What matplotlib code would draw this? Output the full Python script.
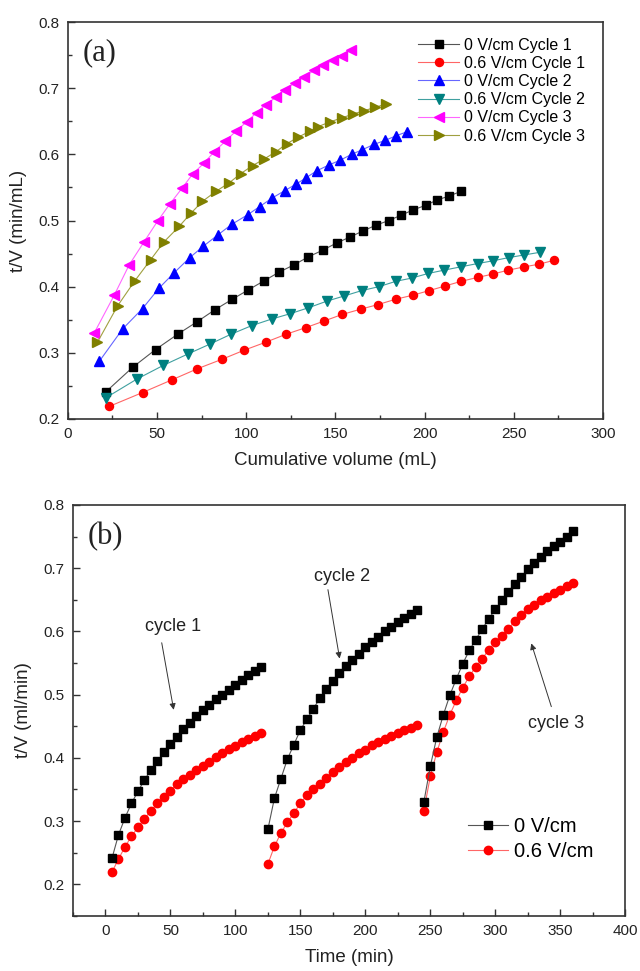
import matplotlib
matplotlib.use("Agg")
import matplotlib.pyplot as plt
from matplotlib.ticker import MultipleLocator

plt.rcParams['font.family'] = ['Liberation Sans', 'DejaVu Sans']

# ---------------- Panel (a) data: cumulative volume (mL) vs t/V ----------------
vol_0V_c1 = [21.3, 36.3, 49.2, 61.5, 72.5, 82.4, 92.2, 101.1, 110.1, 118.5, 126.8, 134.8,
             142.8, 150.7, 158.2, 165.3, 172.8, 180.0, 186.8, 193.6, 200.6, 207.1, 213.7, 220.4]
tv_0V_c1 = [0.241, 0.278, 0.305, 0.328, 0.347, 0.365, 0.381, 0.395, 0.409, 0.422, 0.433, 0.445,
            0.455, 0.466, 0.475, 0.484, 0.493, 0.500, 0.508, 0.516, 0.523, 0.531, 0.537, 0.544]

vol_06V_c1 = [23.2, 41.9, 58.2, 72.7, 86.2, 98.9, 110.9, 122.3, 133.3, 143.6, 153.8, 164.2,
              174.0, 183.8, 193.3, 202.5, 211.5, 220.4, 229.8, 238.2, 247.0, 256.0, 264.2, 272.8]
tv_06V_c1 = [0.219, 0.240, 0.259, 0.276, 0.290, 0.304, 0.316, 0.328, 0.338, 0.348, 0.358, 0.366,
             0.373, 0.381, 0.387, 0.394, 0.401, 0.408, 0.414, 0.419, 0.425, 0.430, 0.434, 0.440]

vol_0V_c2 = [17.6, 30.7, 41.9, 51.2, 59.6, 68.4, 75.9, 84.0, 91.8, 101.0, 107.5, 114.6,
             121.5, 128.0, 133.8, 139.5, 146.4, 152.6, 159.1, 165.1, 171.6, 177.8, 184.0, 190.0]
tv_0V_c2 = [0.287, 0.336, 0.367, 0.398, 0.421, 0.444, 0.461, 0.478, 0.494, 0.509, 0.521, 0.534,
            0.545, 0.555, 0.565, 0.575, 0.584, 0.591, 0.600, 0.607, 0.615, 0.621, 0.628, 0.634]

vol_06V_c2 = [21.3, 38.5, 53.5, 67.1, 79.5, 91.4, 103.0, 114.2, 124.5, 134.8, 145.1, 155.0,
              164.7, 174.4, 183.8, 192.8, 202.1, 211.0, 220.4, 229.8, 238.2, 247.3, 256.0, 264.8]
tv_06V_c2 = [0.232, 0.260, 0.281, 0.298, 0.313, 0.328, 0.341, 0.351, 0.359, 0.368, 0.378, 0.386,
             0.394, 0.400, 0.408, 0.413, 0.420, 0.425, 0.430, 0.435, 0.439, 0.444, 0.448, 0.452]

vol_0V_c3 = [14.8, 26.0, 34.4, 42.8, 50.3, 57.2, 64.1, 69.9, 76.4, 82.1, 88.4, 94.2,
             100.2, 105.8, 110.9, 116.5, 121.7, 127.3, 132.5, 138.1, 143.2, 148.5, 153.5, 158.7]
tv_0V_c3 = [0.330, 0.387, 0.433, 0.468, 0.499, 0.525, 0.549, 0.570, 0.587, 0.604, 0.620, 0.635,
            0.649, 0.663, 0.675, 0.686, 0.698, 0.708, 0.717, 0.727, 0.735, 0.742, 0.749, 0.758]

vol_06V_c3 = [16.6, 27.9, 37.6, 46.5, 54.0, 62.4, 69.0, 75.5, 83.0, 90.5, 97.0, 103.6,
              110.1, 116.7, 122.7, 129.2, 135.7, 140.4, 146.9, 153.5, 160.0, 166.2, 172.2, 178.4]
tv_06V_c3 = [0.316, 0.371, 0.409, 0.441, 0.468, 0.491, 0.511, 0.529, 0.544, 0.557, 0.571, 0.583,
             0.593, 0.604, 0.616, 0.626, 0.635, 0.642, 0.649, 0.655, 0.661, 0.666, 0.671, 0.676]

# ---------------- Panel (b) data: time (min) ----------------
time_c1 = [5, 10, 15, 20, 25, 30, 35, 40, 45, 50, 55, 60,
           65, 70, 75, 80, 85, 90, 95, 100, 105, 110, 115, 120]
time_c2 = [125, 130, 135, 140, 145, 150, 155, 160, 165, 170, 175, 180,
           185, 190, 195, 200, 205, 210, 215, 220, 225, 230, 235, 240]
time_c3 = [245, 250, 255, 260, 265, 270, 275, 280, 285, 290, 295, 300,
           305, 310, 315, 320, 325, 330, 335, 340, 345, 350, 355, 360]

series_a = [
    (vol_0V_c1, tv_0V_c1, '0 V/cm Cycle 1', 's', '#000000', '#555555', 5.2),
    (vol_06V_c1, tv_06V_c1, '0.6 V/cm Cycle 1', 'o', '#ff0000', '#ff6666', 5.8),
    (vol_0V_c2, tv_0V_c2, '0 V/cm Cycle 2', '^', '#0000ff', '#6666ff', 6.5),
    (vol_06V_c2, tv_06V_c2, '0.6 V/cm Cycle 2', 'v', '#008080', '#40a0a0', 6.5),
    (vol_0V_c3, tv_0V_c3, '0 V/cm Cycle 3', '<', '#ff00ff', '#ff66ff', 6.5),
    (vol_06V_c3, tv_06V_c3, '0.6 V/cm Cycle 3', '>', '#808000', '#a0a040', 6.5),
]

fig = plt.figure(figsize=(6.4, 9.71), dpi=100)
ax1 = fig.add_axes([0.106, 0.5685, 0.836, 0.4088])
ax2 = fig.add_axes([0.114, 0.0567, 0.863, 0.4233])

spine_color = '#333333'

def style_axes(ax):
    for s in ax.spines.values():
        s.set_color(spine_color)
        s.set_linewidth(1.2)
    ax.tick_params(which='both', direction='in', top=False, right=False,
                   colors=spine_color, labelcolor='#222222', labelsize=11)
    ax.tick_params(which='major', length=5, width=1.0, pad=6)
    ax.tick_params(which='minor', length=3, width=1.0)

# ---------------- Panel (a) ----------------
for x, y, lab, mk, col, lcol, ms in series_a:
    ax1.plot(x, y, color=lcol, lw=0.8, marker=mk, markersize=ms,
             markerfacecolor=col, markeredgecolor=col, label=lab)
ax1.set_xlim(0, 300)
ax1.set_ylim(0.2, 0.8)
ax1.xaxis.set_major_locator(MultipleLocator(50))
ax1.xaxis.set_minor_locator(MultipleLocator(25))
ax1.set_yticks([0.2, 0.3, 0.4, 0.5, 0.6, 0.7, 0.8])
ax1.set_yticklabels(['0.2', '0.3', '0.4', '0.5', '0.6', '0.7', '0.8'])
ax1.yaxis.set_minor_locator(MultipleLocator(0.05))
style_axes(ax1)
ax1.set_xlabel('Cumulative volume (mL)', fontsize=13.5, color='#222222', labelpad=8)
ax1.set_ylabel('t/V (min/mL)', fontsize=13.5, color='#222222', labelpad=8)
ax1.text(0.059, 0.922, '(a)', transform=ax1.transAxes, fontsize=22,
         family='Liberation Serif', ha='center', va='center', color='#222222')
ax1.legend(loc='upper right', bbox_to_anchor=(0.985, 0.985), frameon=False,
           fontsize=11.5, handlelength=2.6, handletextpad=0.3, labelspacing=0.2,
           borderaxespad=0.2)

# ---------------- Panel (b) ----------------
cycles_0V = [(time_c1, tv_0V_c1), (time_c2, tv_0V_c2), (time_c3, tv_0V_c3)]
cycles_06V = [(time_c1, tv_06V_c1), (time_c2, tv_06V_c2), (time_c3, tv_06V_c3)]
for i, (t, y) in enumerate(cycles_0V):
    ax2.plot(t, y, color='#555555', lw=0.8, marker='s', markersize=5.5,
             markerfacecolor='#000000', markeredgecolor='#000000',
             label='0 V/cm' if i == 0 else None, zorder=3)
for i, (t, y) in enumerate(cycles_06V):
    ax2.plot(t, y, color='#ff6666', lw=0.8, marker='o', markersize=6,
             markerfacecolor='#ff0000', markeredgecolor='#ff0000',
             label='0.6 V/cm' if i == 0 else None, zorder=2)
ax2.set_xlim(-25, 400)
ax2.set_ylim(0.15, 0.8)
ax2.xaxis.set_major_locator(MultipleLocator(50))
ax2.xaxis.set_minor_locator(MultipleLocator(25))
ax2.set_yticks([0.2, 0.3, 0.4, 0.5, 0.6, 0.7, 0.8])
ax2.set_yticklabels(['0.2', '0.3', '0.4', '0.5', '0.6', '0.7', '0.8'])
ax2.yaxis.set_minor_locator(MultipleLocator(0.05))
style_axes(ax2)
ax2.set_xlabel('Time (min)', fontsize=13.5, color='#222222', labelpad=8)
ax2.set_ylabel('t/V (ml/min)', fontsize=13.5, color='#222222', labelpad=8)
ax2.text(0.059, 0.923, '(b)', transform=ax2.transAxes, fontsize=22,
         family='Liberation Serif', ha='center', va='center', color='#222222')

arrow = dict(arrowstyle='-|>', color='#333333', lw=0.7, mutation_scale=9, shrinkA=0, shrinkB=0)
ax2.text(51.8, 0.607, 'cycle 1', fontsize=13, ha='center', va='center', color='#222222')
ax2.annotate('', xy=(52.5, 0.476), xytext=(43.3, 0.582), arrowprops=arrow)
ax2.text(182.3, 0.687, 'cycle 2', fontsize=13, ha='center', va='center', color='#222222')
ax2.annotate('', xy=(180.2, 0.557), xytext=(171.2, 0.666), arrowprops=arrow)
ax2.text(346.9, 0.455, 'cycle 3', fontsize=13, ha='center', va='center', color='#222222')
ax2.annotate('', xy=(327.7, 0.581), xytext=(343.1, 0.481), arrowprops=arrow)

ax2.legend(loc='center left', bbox_to_anchor=(0.70, 0.188), frameon=False,
           fontsize=14.5, handlelength=2.0, handletextpad=0.3, labelspacing=0.3,
           borderaxespad=0.0)

fig.savefig('out.png', dpi=100)
